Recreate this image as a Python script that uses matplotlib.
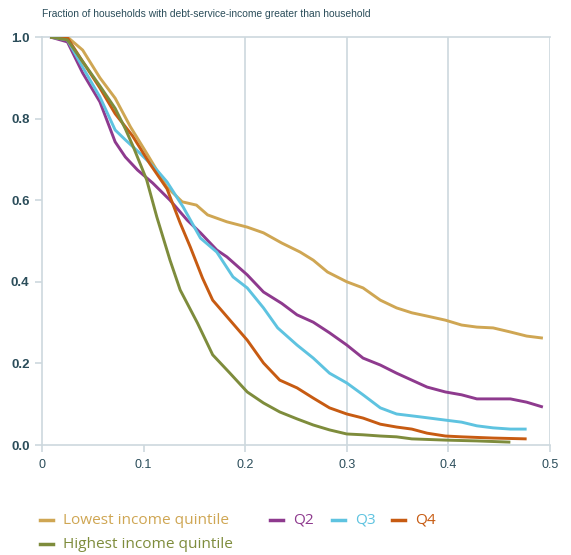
import matplotlib
matplotlib.use("Agg")
import matplotlib.pyplot as plt
from matplotlib.lines import Line2D

# Debt-service-to-income thresholds and shares of households above them
x_lowest = [0.008, 0.025, 0.040, 0.057, 0.072, 0.087, 0.104, 0.123, 0.138, 0.152, 0.163,
            0.182, 0.202, 0.218, 0.236, 0.254, 0.267, 0.281, 0.300, 0.316, 0.333, 0.349,
            0.364, 0.379, 0.397, 0.413, 0.428, 0.444, 0.461, 0.477, 0.493]
y_lowest = [1.0, 1.0, 0.968, 0.900, 0.850, 0.780, 0.711, 0.632, 0.596, 0.588, 0.564,
            0.547, 0.534, 0.520, 0.495, 0.473, 0.453, 0.424, 0.400, 0.385, 0.355, 0.336,
            0.324, 0.316, 0.306, 0.294, 0.289, 0.287, 0.277, 0.267, 0.262]

x_q2 = [0.008, 0.025, 0.040, 0.057, 0.072, 0.082, 0.094, 0.109, 0.126, 0.143, 0.156,
        0.172, 0.182, 0.202, 0.218, 0.236, 0.251, 0.267, 0.283, 0.300, 0.316, 0.333,
        0.349, 0.364, 0.379, 0.397, 0.413, 0.428, 0.444, 0.461, 0.477, 0.493]
y_q2 = [1.0, 0.988, 0.912, 0.841, 0.743, 0.706, 0.674, 0.642, 0.600, 0.551, 0.520,
        0.478, 0.461, 0.417, 0.375, 0.347, 0.319, 0.301, 0.275, 0.245, 0.213, 0.196,
        0.176, 0.159, 0.142, 0.130, 0.123, 0.113, 0.113, 0.113, 0.105, 0.093]

x_q3 = [0.008, 0.025, 0.040, 0.057, 0.072, 0.082, 0.096, 0.113, 0.123, 0.139, 0.156,
        0.172, 0.188, 0.202, 0.218, 0.232, 0.251, 0.267, 0.283, 0.300, 0.316, 0.333,
        0.349, 0.372, 0.397, 0.413, 0.428, 0.444, 0.461, 0.477]
y_q3 = [1.0, 0.993, 0.926, 0.853, 0.772, 0.748, 0.716, 0.674, 0.645, 0.583, 0.507,
        0.473, 0.412, 0.385, 0.336, 0.287, 0.245, 0.213, 0.176, 0.152, 0.123, 0.091,
        0.076, 0.069, 0.061, 0.056, 0.047, 0.042, 0.039, 0.039]

x_q4 = [0.008, 0.025, 0.040, 0.057, 0.072, 0.089, 0.106, 0.123, 0.136, 0.146, 0.158,
        0.168, 0.185, 0.202, 0.218, 0.234, 0.251, 0.267, 0.283, 0.300, 0.316, 0.333,
        0.349, 0.364, 0.379, 0.397, 0.413, 0.444, 0.477]
y_q4 = [1.0, 0.998, 0.940, 0.875, 0.812, 0.758, 0.690, 0.628, 0.544, 0.485, 0.409,
        0.355, 0.306, 0.257, 0.201, 0.159, 0.140, 0.115, 0.091, 0.076, 0.066, 0.051,
        0.044, 0.039, 0.029, 0.022, 0.020, 0.017, 0.015]

x_highest = [0.008, 0.025, 0.040, 0.057, 0.072, 0.082, 0.090, 0.103, 0.113, 0.126, 0.136,
             0.153, 0.168, 0.185, 0.202, 0.218, 0.234, 0.251, 0.267, 0.283, 0.300, 0.316,
             0.333, 0.349, 0.364, 0.397, 0.428, 0.461]
y_highest = [1.0, 0.993, 0.940, 0.880, 0.825, 0.775, 0.730, 0.650, 0.559, 0.453, 0.380,
             0.299, 0.221, 0.176, 0.130, 0.103, 0.081, 0.064, 0.049, 0.037, 0.027, 0.025,
             0.022, 0.020, 0.015, 0.012, 0.010, 0.007]

x_ticks = [0, 0.1, 0.2, 0.3, 0.4, 0.5]
x_tick_labels = ["0", "0.1", "0.2", "0.3", "0.4", "0.5"]
y_ticks = [0.0, 0.2, 0.4, 0.6, 0.8, 1.0]
y_tick_labels = ["0.0", "0.2", "0.4", "0.6", "0.8", "1.0"]

title = "Fraction of households with debt-service-income greater than household"

C_LOW = "#CFA653"
C_Q2 = "#8E3A8E"
C_Q3 = "#5EC3E0"
C_Q4 = "#C75B12"
C_HIGH = "#7E8C3C"
GRID = "#CDD8DE"
TEXT = "#2B4D5A"
NARROW = ["Liberation Sans", "DejaVu Sans"]

W, H = 571, 555
fig = plt.figure(figsize=(W / 100, H / 100), dpi=100)
ax = fig.add_axes([42 / W, 1 - 445 / H, (550 - 42) / W, (445 - 37) / H])

lw = 2.1
series = [
    (x_lowest, y_lowest, C_LOW),
    (x_q2, y_q2, C_Q2),
    (x_q3, y_q3, C_Q3),
    (x_q4, y_q4, C_Q4),
    (x_highest, y_highest, C_HIGH),
]
for xs, ys, c in series:
    ax.plot(xs, ys, color=c, lw=lw, solid_joinstyle="round", solid_capstyle="butt", zorder=3)

ax.set_xlim(0, 0.5)
ax.set_ylim(0, 1.0)

# grid: verticals from 0.2 onwards plus a top rule at 1.0
for gx in [0.2, 0.3, 0.4, 0.5]:
    ax.axvline(gx, color=GRID, lw=1.2, zorder=1)
ax.axhline(1.0, color=GRID, lw=1.2, zorder=1, clip_on=False)

for side in ["top", "right"]:
    ax.spines[side].set_visible(False)
for side in ["left", "bottom"]:
    ax.spines[side].set_color(GRID)
    ax.spines[side].set_linewidth(1.2)

ax.set_xticks(x_ticks)
ax.set_xticklabels(x_tick_labels)
ax.set_yticks(y_ticks)
ax.set_yticklabels(y_tick_labels)
ax.tick_params(axis="both", colors=GRID, length=5, width=1.2)
for lab in ax.get_xticklabels():
    lab.set_color(TEXT)
    lab.set_fontsize(9)
    lab.set_family(NARROW)
for lab in ax.get_yticklabels():
    lab.set_color(TEXT)
    lab.set_fontsize(9.5)
    lab.set_fontweight("bold")
    lab.set_family(NARROW)
ax.tick_params(axis="x", pad=5)
ax.tick_params(axis="y", pad=4)

fig.text(42 / W, 1 - 14 / H, title, ha="left", va="center", fontsize=7.4,
         color=TEXT, family=NARROW)

# legend, laid out in two rows below the plot
legend_items = [
    ("Lowest income quintile", C_LOW, 40, 520),
    ("Q2", C_Q2, 270, 520),
    ("Q3", C_Q3, 332, 520),
    ("Q4", C_Q4, 392, 520),
    ("Highest income quintile", C_HIGH, 40, 544),
]
for label, c, px, py in legend_items:
    yf = 1 - py / H
    fig.add_artist(Line2D([px / W, (px + 13) / W], [yf, yf], color=c, lw=2.5,
                          transform=fig.transFigure))
    fig.text((px + 23) / W, yf, label, ha="left", va="center", fontsize=11.1,
             color=c, family=["Open Sans", "DejaVu Sans"])

fig.savefig("out.png", dpi=100)
